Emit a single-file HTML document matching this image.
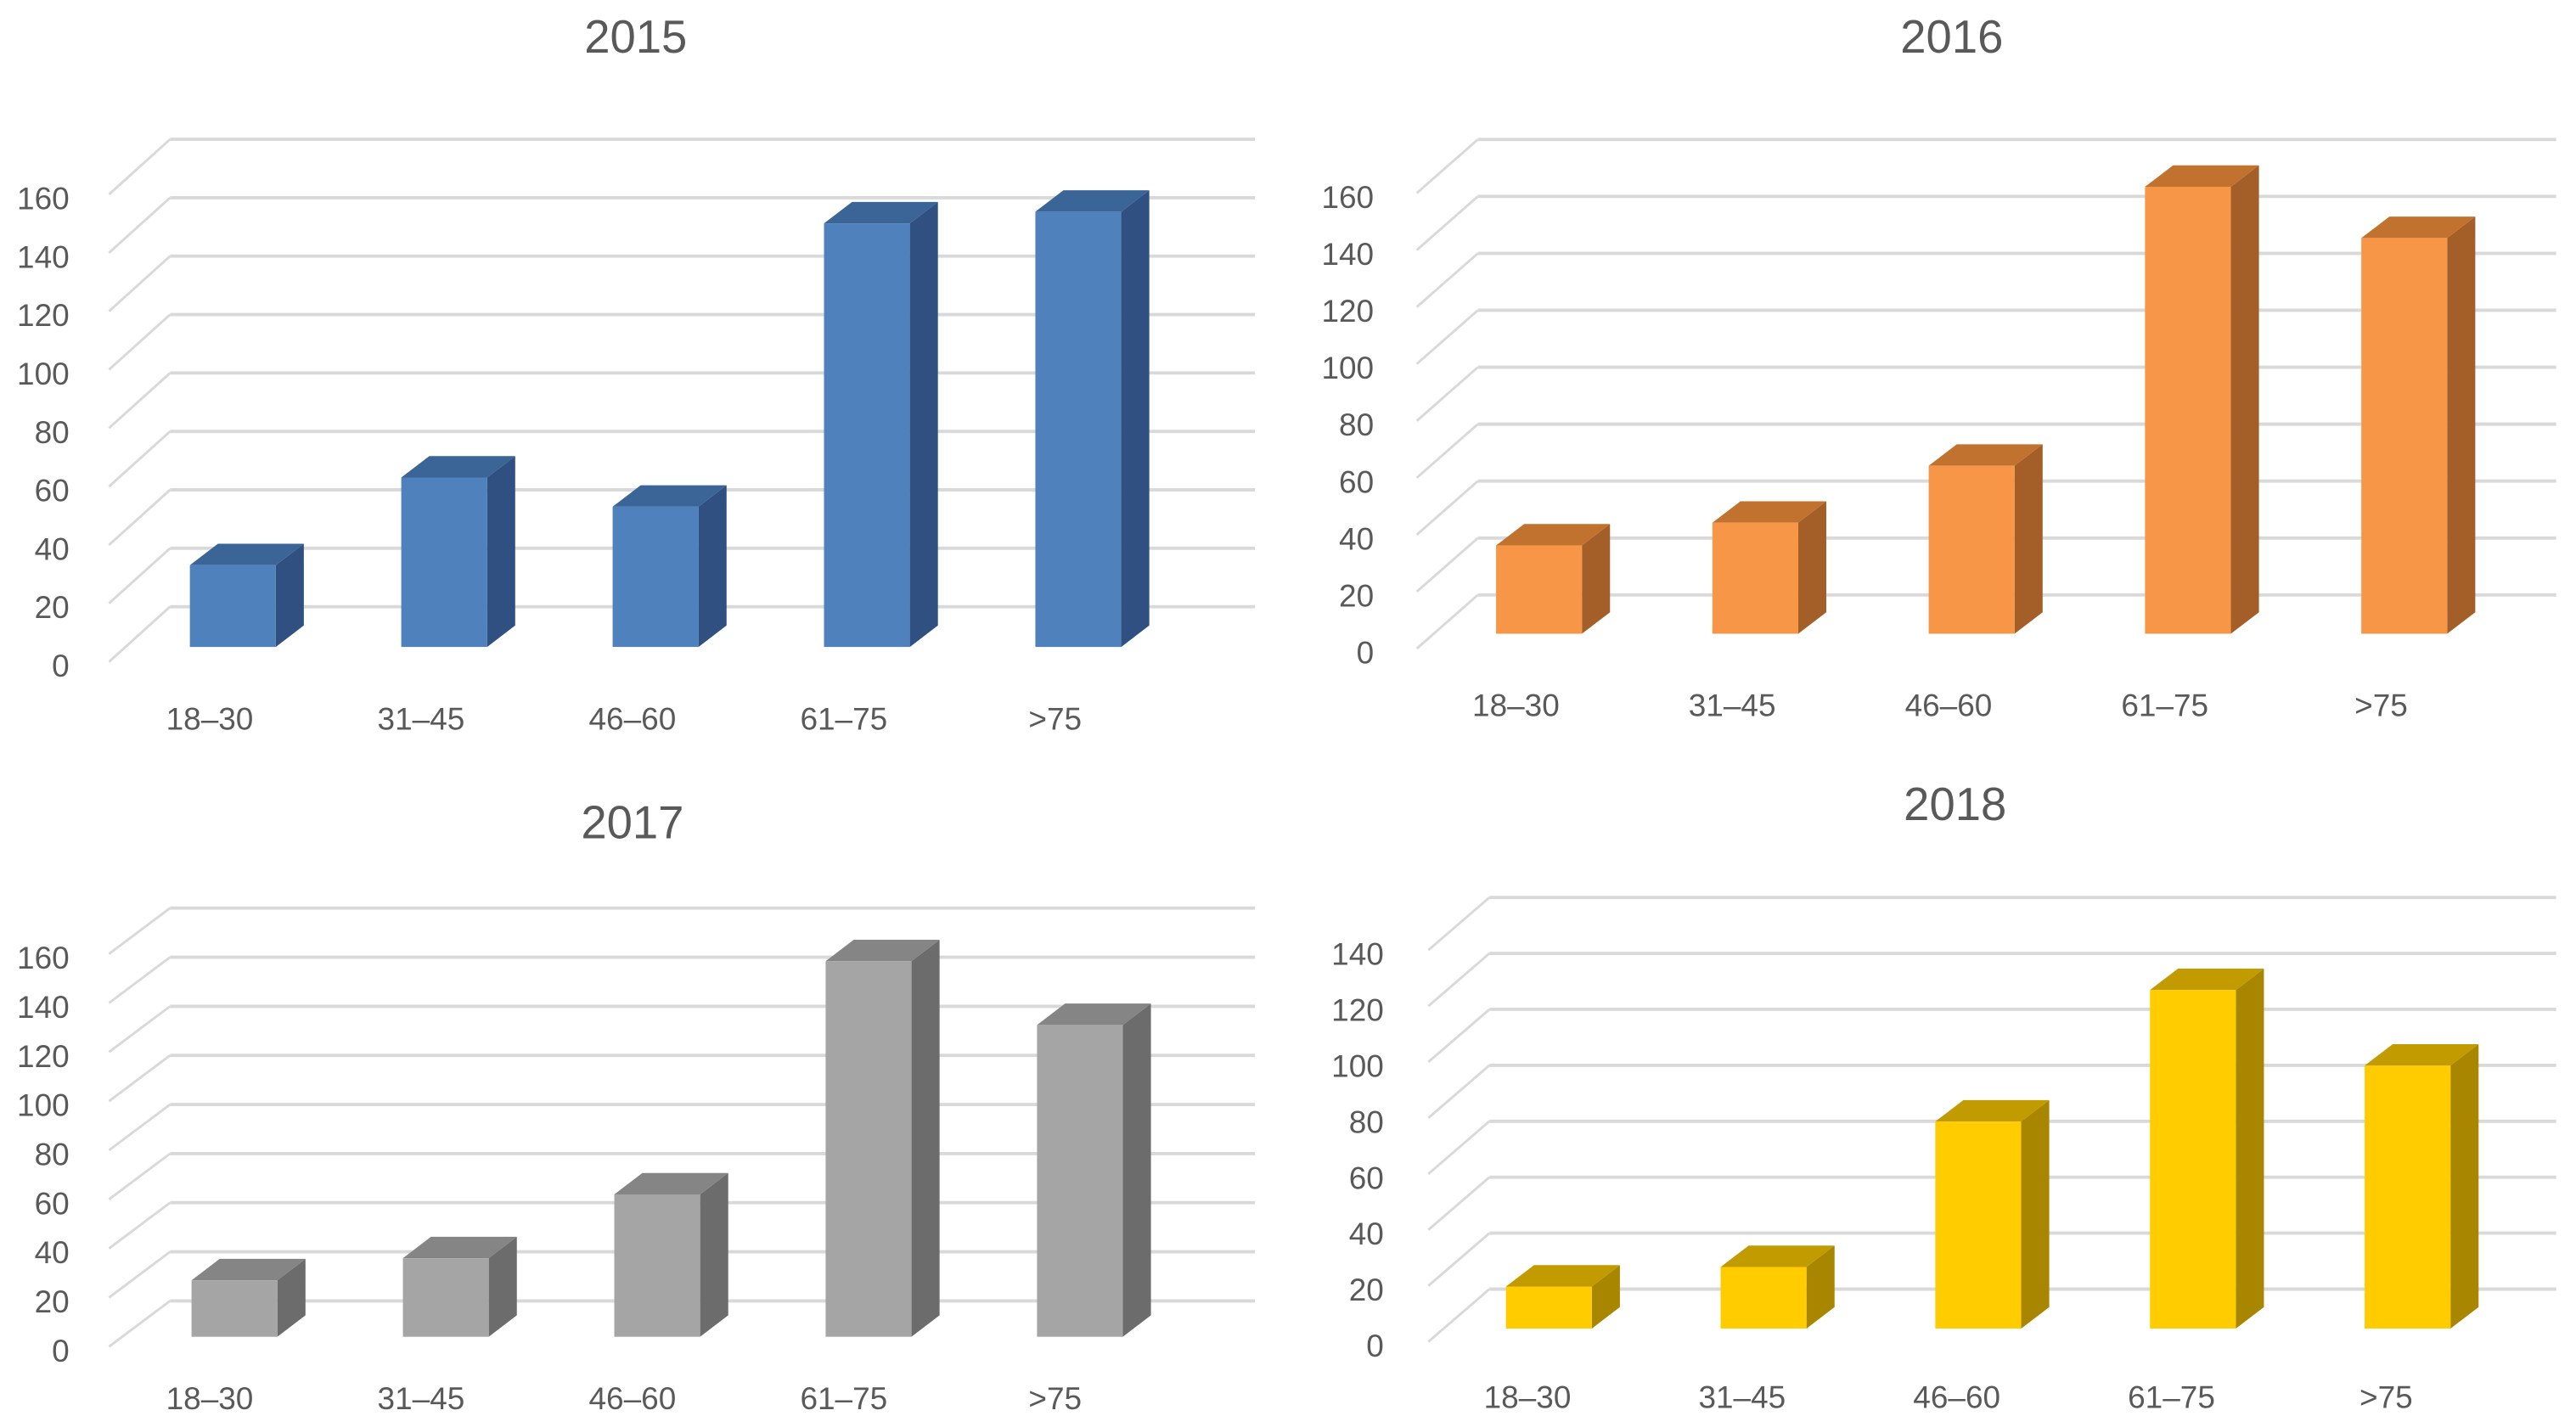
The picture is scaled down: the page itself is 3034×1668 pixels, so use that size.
<!DOCTYPE html>
<html><head><meta charset="utf-8"><style>
html,body{margin:0;padding:0;background:#fff;}
svg{display:block;}
</style></head><body>
<svg id="root" xmlns="http://www.w3.org/2000/svg" width="3034" height="1668" viewBox="0 0 1560 858" preserveAspectRatio="none"></svg>
<script>
const categories = ["18–30","31–45","46–60","61–75",">75"];
const values2015 = [28, 58, 48, 145, 149];
const values2016 = [31, 39, 59, 157, 139];
const values2017 = [23, 32, 58, 153, 127];
const values2018 = [15, 22, 74, 121, 94];
const ticks160 = [0,20,40,60,80,100,120,140,160];
const ticks140 = [0,20,40,60,80,100,120,140];

const charts = [
  {title:"2015", values:values2015, ticks:ticks160, tx:385, ty:22, labX:42, y0:403, step:35.4, base:392, xb:103, xe:760, barX0:115, barDx:128, lblX0:127, lblY:435, top:180, c:["#4f81bd","#2f5080","#3b6497"]},
  {title:"2016", values:values2016, ticks:ticks160, tx:1182, ty:22, labX:832, y0:395, step:34.5, base:384, xb:895, xe:1548, barX0:906, barDx:131, lblX0:918, lblY:427, top:180, c:["#f79646","#a35f27","#c2722f"]},
  {title:"2017", values:values2017, ticks:ticks160, tx:383, ty:498, labX:42, y0:818, step:29.75, base:810, xb:103, xe:760, barX0:116, barDx:128, lblX0:127, lblY:847, top:180, c:["#a5a5a5","#6c6c6c","#858585"]},
  {title:"2018", values:values2018, ticks:ticks140, tx:1184, ty:487, labX:838, y0:815, step:33.9, base:805, xb:902, xe:1548, barX0:912, barDx:130, lblX0:925, lblY:846, top:160, c:["#ffcc00","#a88600","#c29b00"]}
];

const NS = "http://www.w3.org/2000/svg";
const root = document.getElementById('root');
function mk(tag, attrs, parent){
  const e = document.createElementNS(NS, tag);
  for (const k in attrs) e.setAttribute(k, attrs[k]);
  parent.appendChild(e);
  return e;
}

charts.forEach(ch => {
  const g = mk('g', {}, root);
  
  
  const yv = v => ch.y0 - v / 20 * ch.step;
  const yb = v => ch.base - v / 20 * ch.step;
  const t = mk('text', {x:ch.tx, y:ch.ty+10, 'text-anchor':'middle', 'font-size':28, fill:'#595959', 'font-family':'Liberation Sans, sans-serif'}, g);
  t.textContent = ch.title;
  
  
  for (let v = 20; v <= ch.top; v += 20) {
    const y = yv(v);
    const h = mk('line', {x1:ch.xb, y1:y, x2:ch.xe, y2:y, stroke:'#d9d9d9', 'stroke-width':2}, g);
    
    
    const d = mk('line', {x1:ch.xb-37, y1:y+ch.step-2, x2:ch.xb, y2:y, stroke:'#d9d9d9', 'stroke-width':1.5}, g);
    
    
  }
  ch.ticks.forEach(v => {
    const tl = mk('text', {x:ch.labX, y:yv(v)+7, 'text-anchor':'end', 'font-size':19, fill:'#595959', 'font-family':'Liberation Sans, sans-serif'}, g);
    tl.textContent = v;
    
    
  });
  const w = 52, dx = 17, dy = 13;
  ch.values.forEach((v, i) => {
    const x = ch.barX0 + i * ch.barDx, top = yb(v), b = ch.base;
    const bg = mk('g', {}, g);
    
    
    mk('polygon', {points:`${x+w},${top} ${x+w+dx},${top-dy} ${x+w+dx},${b-dy} ${x+w},${b}`, fill:ch.c[1]}, bg);
    mk('polygon', {points:`${x},${top} ${x+dx},${top-dy} ${x+w+dx},${top-dy} ${x+w},${top}`, fill:ch.c[2]}, bg);
    mk('rect', {x:x, y:top, width:w, height:b-top, fill:ch.c[0]}, bg);
    const cl = mk('text', {x:ch.lblX0 + i * ch.barDx, y:ch.lblY+7, 'text-anchor':'middle', 'font-size':19, fill:'#595959', 'font-family':'Liberation Sans, sans-serif'}, g);
    cl.textContent = categories[i];
    
    
  });
});
</script>
</body></html>
